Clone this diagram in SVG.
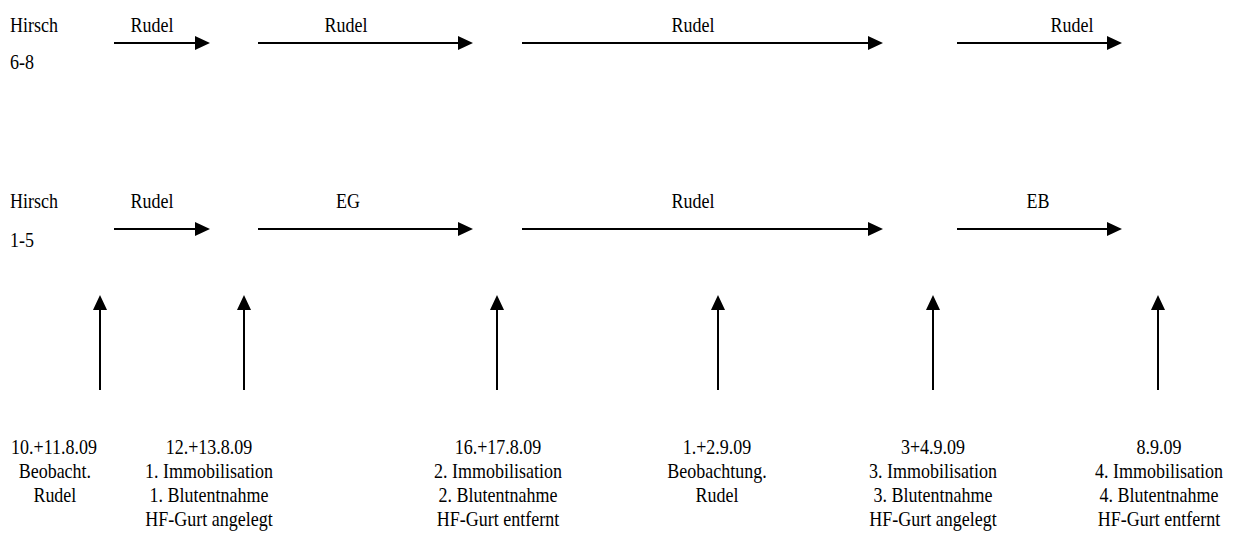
<svg xmlns="http://www.w3.org/2000/svg" width="1251" height="558" viewBox="0 0 1251 558">
  <defs>
    <!-- solid triangular arrowhead; line end sits 10px behind the tip -->
    <marker id="head" markerUnits="userSpaceOnUse" markerWidth="16" markerHeight="16" refX="5" refY="7" orient="auto" overflow="visible">
      <path d="M0,0 L15,7 L0,14 Z" fill="#000"/>
    </marker>
  </defs>
  <style>
    /* text is set at 21px and narrowed horizontally by its group transform */
    text { font-family: "Liberation Serif", "Times New Roman", serif; font-size: 21px; fill: #000; }
    .c { text-anchor: middle; }
    .arrow { stroke: #000; stroke-width: 2; fill: none; marker-end: url(#head); }
  </style>
  <rect width="1251" height="558" fill="#fff"/>

  <!-- row labels -->
  <g id="row-6-8" transform="translate(10,0) scale(0.857,1)">
    <text x="0" y="32">Hirsch</text>
    <text x="0" y="69">6-8</text>
  </g>
  <g id="row-1-5" transform="translate(10,0) scale(0.857,1)">
    <text x="0" y="208">Hirsch</text>
    <text x="0" y="247">1-5</text>
  </g>

  <!-- phase labels above the timeline arrows -->
  <g id="phases-6-8">
    <g transform="translate(152,0) scale(0.857,1)"><text class="c" x="0" y="32">Rudel</text></g>
    <g transform="translate(346,0) scale(0.857,1)"><text class="c" x="0" y="32">Rudel</text></g>
    <g transform="translate(693,0) scale(0.857,1)"><text class="c" x="0" y="32">Rudel</text></g>
    <g transform="translate(1072,0) scale(0.857,1)"><text class="c" x="0" y="32">Rudel</text></g>
  </g>
  <g id="phases-1-5">
    <g transform="translate(152,0) scale(0.857,1)"><text class="c" x="0" y="208">Rudel</text></g>
    <g transform="translate(348,0) scale(0.857,1)"><text class="c" x="0" y="208">EG</text></g>
    <g transform="translate(693,0) scale(0.857,1)"><text class="c" x="0" y="208">Rudel</text></g>
    <g transform="translate(1038,0) scale(0.857,1)"><text class="c" x="0" y="208">EB</text></g>
  </g>

  <!-- connectors -->
  <g id="connectors">
    <line class="arrow" x1="114" y1="43" x2="200" y2="43"/>
    <line class="arrow" x1="258" y1="43" x2="463" y2="43"/>
    <line class="arrow" x1="522" y1="43" x2="873" y2="43"/>
    <line class="arrow" x1="957" y1="43" x2="1112" y2="43"/>

    <line class="arrow" x1="114" y1="229" x2="200" y2="229"/>
    <line class="arrow" x1="258" y1="229" x2="463" y2="229"/>
    <line class="arrow" x1="522" y1="229" x2="873" y2="229"/>
    <line class="arrow" x1="957" y1="229" x2="1112" y2="229"/>

    <line class="arrow" x1="100" y1="390" x2="100" y2="305"/>
    <line class="arrow" x1="244" y1="390" x2="244" y2="305"/>
    <line class="arrow" x1="497" y1="390" x2="497" y2="305"/>
    <line class="arrow" x1="718" y1="390" x2="718" y2="305"/>
    <line class="arrow" x1="933" y1="390" x2="933" y2="305"/>
    <line class="arrow" x1="1158" y1="390" x2="1158" y2="305"/>
  </g>

  <!-- events along the time axis -->
  <g id="event-1" transform="translate(54,0) scale(0.857,1)">
    <text class="c" x="0" y="454">10.+11.8.09</text>
    <text class="c" x="1" y="478">Beobacht.</text>
    <text class="c" x="1" y="502">Rudel</text>
  </g>
  <g id="event-2" transform="translate(209,0) scale(0.857,1)">
    <text class="c" x="0" y="454">12.+13.8.09</text>
    <text class="c" x="0" y="478">1. Immobilisation</text>
    <text class="c" x="0" y="502">1. Blutentnahme</text>
    <text class="c" x="0" y="526">HF-Gurt angelegt</text>
  </g>
  <g id="event-3" transform="translate(498,0) scale(0.857,1)">
    <text class="c" x="0" y="454">16.+17.8.09</text>
    <text class="c" x="0" y="478">2. Immobilisation</text>
    <text class="c" x="0" y="502">2. Blutentnahme</text>
    <text class="c" x="0" y="526">HF-Gurt entfernt</text>
  </g>
  <g id="event-4" transform="translate(717,0) scale(0.857,1)">
    <text class="c" x="0" y="454">1.+2.9.09</text>
    <text class="c" x="0" y="478">Beobachtung.</text>
    <text class="c" x="0" y="502">Rudel</text>
  </g>
  <g id="event-5" transform="translate(933,0) scale(0.857,1)">
    <text class="c" x="0" y="454">3+4.9.09</text>
    <text class="c" x="0" y="478">3. Immobilisation</text>
    <text class="c" x="0" y="502">3. Blutentnahme</text>
    <text class="c" x="0" y="526">HF-Gurt angelegt</text>
  </g>
  <g id="event-6" transform="translate(1159,0) scale(0.857,1)">
    <text class="c" x="0" y="454">8.9.09</text>
    <text class="c" x="0" y="478">4. Immobilisation</text>
    <text class="c" x="0" y="502">4. Blutentnahme</text>
    <text class="c" x="0" y="526">HF-Gurt entfernt</text>
  </g>
</svg>
